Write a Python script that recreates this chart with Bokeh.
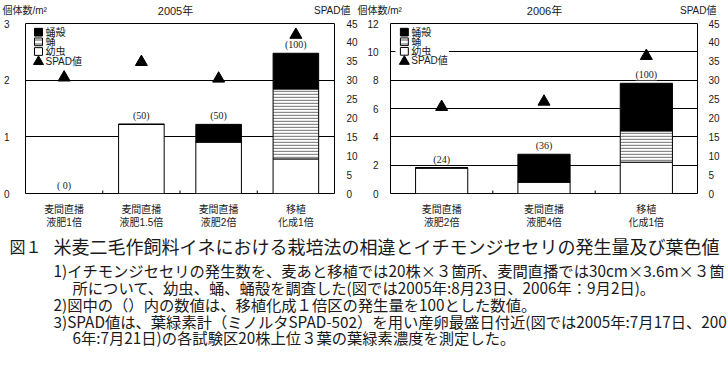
import numpy as np
from bokeh.plotting import figure
from bokeh.models import (Range1d, LinearAxis, FixedTicker, ColumnDataSource, Label, LabelSet)
from bokeh.core.properties import value
from bokeh.layouts import column, row
from bokeh.embed import file_html
from bokeh.resources import INLINE

# ---------------- data ----------------
cats_2005 = ["麦間直播\n液肥1倍", "麦間直播\n液肥1.5倍", "麦間直播\n液肥2倍", "移植\n化成1倍"]
larva_2005 = [0.0, 1.22, 0.91, 0.61]      # 幼虫
pupa_2005 = [0.0, 0.0, 0.0, 1.235]        # 蛹
exuv_2005 = [0.0, 0.0, 0.31, 0.63]        # 蛹殻
spad_2005 = [30.7, 34.8, 30.4, 42.0]      # SPAD値
rel_2005 = [0, 50, 50, 100]               # (  ) 内の数値

cats_2006 = ["麦間直播\n液肥2倍", "麦間直播\n液肥4倍", "移植\n化成1倍"]
larva_2006 = [1.81, 0.81, 2.21]
pupa_2006 = [0.0, 0.0, 2.21]
exuv_2006 = [0.0, 1.96, 3.36]
spad_2006 = [22.9, 24.3, 36.4]
rel_2006 = [24, 36, 100]

yticks_2005 = [0, 1, 2, 3]
yticks_2006 = [0, 2, 4, 6, 8, 10, 12]
spad_ticks = [0, 5, 10, 15, 20, 25, 30, 35, 40, 45]

legend_labels = ["蛹殻", "蛹", "幼虫", "SPAD値"]
header_texts = ["個体数/m²", "2005年", "SPAD値", "個体数/m²", "2006年", "SPAD値"]

caption_title = "図１"
caption_main = "米麦二毛作飼料イネにおける栽培法の相違とイチモンジセセリの発生量及び葉色値"
caption_lines = [
    "1)イチモンジセセリの発生数を、麦あと移植では20株×３箇所、麦間直播では30cm×3.6m×３箇",
    "所について、幼虫、蛹、蛹殻を調査した(図では2005年:8月23日、2006年：9月2日)。",
    "2)図中の（）内の数値は、移植化成１倍区の発生量を100とした数値。",
    "3)SPAD値は、葉緑素計（ミノルタSPAD-502）を用い産卵最盛日付近(図では2005年:7月17日、200",
    "6年:7月21日)の各試験区20株上位３葉の葉緑素濃度を測定した。",
]

CJK = "Noto Sans CJK JP"
MIX = "Liberation Sans, Noto Sans CJK JP"
NUM = "Liberation Sans"
TXT = "#1a1a1a"
HATCH = dict(hatch_pattern="horizontal_line", hatch_color="#8a8a8a", hatch_scale=3, hatch_weight=1.4)


def make_chart(cats, larva, pupa, exuv, spad, rel, yticks, bw, width, borders, offs, leg_x):
    n = len(cats)
    x = np.arange(n) + 0.5
    t0 = np.array(larva)
    t1 = t0 + np.array(pupa)
    t2 = t1 + np.array(exuv)
    src = ColumnDataSource(dict(x=x, b=np.zeros(n), t0=t0, t1=t1, t2=t2, spad=spad,
                                rel=["({:>2d})".format(v) for v in rel]))
    ymax = yticks[-1]
    height = 213
    p = figure(width=width, height=height, x_range=Range1d(0, n), y_range=Range1d(0, ymax),
               output_backend="svg", toolbar_location=None,
               min_border_left=borders[0], min_border_right=borders[1],
               min_border_top=borders[2], min_border_bottom=borders[3])
    frame_h = height - borders[2] - borders[3]
    frame_w = width - borders[0] - borders[1]
    p.background_fill_color = "white"
    p.border_fill_color = "white"
    p.outline_line_color = "black"
    p.outline_line_width = 1
    p.outline_line_alpha = 1

    p.xgrid.grid_line_color = None
    p.ygrid.ticker = FixedTicker(ticks=yticks)
    p.ygrid.grid_line_color = "black"
    p.ygrid.grid_line_alpha = 1
    p.ygrid.grid_line_width = 1

    # left axis
    p.yaxis.ticker = FixedTicker(ticks=yticks)
    p.yaxis.axis_line_color = None
    p.yaxis.major_tick_line_color = None
    p.yaxis.minor_tick_line_color = None
    p.yaxis.major_label_text_font = NUM
    p.yaxis.major_label_text_font_size = "10px"
    p.yaxis.major_label_text_color = TXT
    p.yaxis.major_label_standoff = offs[0]

    # right SPAD axis + pixel ranges for the in-plot legend box
    p.extra_y_ranges = {"spad": Range1d(0, 45), "ly": Range1d(frame_h, 0)}
    p.extra_x_ranges = {"lx": Range1d(0, frame_w)}
    ax = LinearAxis(y_range_name="spad", ticker=FixedTicker(ticks=spad_ticks))
    ax.axis_line_color = None
    ax.major_tick_line_color = None
    ax.minor_tick_line_color = None
    ax.major_label_text_font = NUM
    ax.major_label_text_font_size = "10px"
    ax.major_label_text_color = TXT
    ax.major_label_standoff = offs[1]
    p.add_layout(ax, "right")

    # bottom category axis
    p.xaxis.ticker = FixedTicker(ticks=list(x))
    p.xaxis.major_label_overrides = {float(xx): c for xx, c in zip(x, cats)}
    p.xaxis.axis_line_color = None
    p.xaxis.major_tick_line_color = None
    p.xaxis.minor_tick_line_color = None
    p.xaxis.major_label_text_font = MIX
    p.xaxis.major_label_text_font_size = "10px"
    p.xaxis.major_label_text_color = TXT
    p.xaxis.major_label_text_line_height = 1.2
    p.xaxis.major_label_standoff = 4

    # small inward ticks at category boundaries
    p.ray(x=np.arange(1, n), y=0, length=3, length_units="screen", angle=np.pi / 2,
          line_color="black", line_width=1)

    # ---- legend (drawn in frame pixel coordinates) ----
    rows = [9, 19, 29, 39]
    gx = leg_x
    p.quad(left=gx - 5, right=gx + 49, top=2, bottom=45, x_range_name="lx", y_range_name="ly",
           fill_color="white", line_color=None)
    p.rect(x=gx + 4, y=rows[0], width=8, height=8, x_range_name="lx", y_range_name="ly",
           fill_color="black", line_color="black")
    p.rect(x=gx + 4, y=rows[1], width=8, height=8, x_range_name="lx", y_range_name="ly",
           fill_color="white", line_color="black", hatch_pattern="horizontal_line",
           hatch_color="#555555", hatch_scale=4, hatch_weight=1)
    p.rect(x=gx + 4, y=rows[2], width=8, height=8, x_range_name="lx", y_range_name="ly",
           fill_color="white", line_color="black")
    p.scatter(x=gx + 4, y=rows[3] + 0.5, x_range_name="lx", y_range_name="ly",
              marker="triangle", size=10, fill_color="black", line_color="black")
    p.text(x=[gx + 11] * 4, y=rows, text=legend_labels, x_range_name="lx", y_range_name="ly",
           text_font=value(MIX), text_font_size="10px", text_color=TXT,
           text_baseline="middle", text_align="left")

    # ---- data ----
    p.vbar(x="x", bottom="b", top="t0", width=bw, source=src,
           fill_color="white", line_color="black", line_width=1)
    p.vbar(x="x", bottom="t0", top="t1", width=bw, source=src,
           fill_color="white", line_color="black", line_width=1, **HATCH)
    p.vbar(x="x", bottom="t1", top="t2", width=bw, source=src,
           fill_color="black", line_color="black", line_width=1)
    p.scatter(x="x", y="spad", source=src, y_range_name="spad", marker="triangle",
              size=12, fill_color="black", line_color="black")

    labels = LabelSet(x="x", y="t2", text="rel", source=src, y_offset=3,
                      text_align="center", text_baseline="bottom",
                      text_font=NUM, text_font_size="10px", text_color=TXT,
                      background_fill_color="white")
    p.add_layout(labels)
    return p


p1 = make_chart(cats_2005, larva_2005, pupa_2005, exuv_2005, spad_2005, rel_2005,
                yticks_2005, 0.59, 364, (25, 30, 6, 31), (10, 6), 9)
p2 = make_chart(cats_2006, larva_2006, pupa_2006, exuv_2006, spad_2006, rel_2006,
                yticks_2006, 0.51, 364, (23, 31, 6, 30), (6, 5), 10)

# header row (axis titles and year titles)
hdr = figure(width=728, height=17, x_range=Range1d(0, 728), y_range=Range1d(17, 0),
             output_backend="svg", toolbar_location=None, min_border=0)
hdr.axis.visible = False
hdr.grid.grid_line_color = None
hdr.outline_line_color = None
hdr.border_fill_color = "white"
hdr_x = [2, 175, 350, 357, 544, 716]
hdr_align = ["left", "center", "right", "left", "center", "right"]
hdr_size = ["10px", "11px", "10px", "10px", "11px", "10px"]
for t, hx, al, fs in zip(header_texts, hdr_x, hdr_align, hdr_size):
    hdr.add_layout(Label(x=hx, y=10, text=t, text_align=al, text_baseline="middle",
                         text_font=MIX, text_font_size=fs, text_color=TXT))

# caption
cap = figure(width=728, height=140, x_range=Range1d(0, 728), y_range=Range1d(140, 0),
             output_backend="svg", toolbar_location=None, min_border=0)
cap.axis.visible = False
cap.grid.grid_line_color = None
cap.outline_line_color = None
cap.background_fill_color = "white"
cap.border_fill_color = "white"
cap.add_layout(Label(x=9, y=15, text=caption_title, text_baseline="middle",
                     text_font=CJK, text_font_size="16px", text_color=TXT))
cap.add_layout(Label(x=53, y=15, text=caption_main, text_baseline="middle",
                     text_font=CJK, text_font_size="18px", text_color=TXT))
line_x = [53, 72, 53, 53, 72]
line_y = [39, 56, 73, 90, 106]
for tx, lx, ly in zip(caption_lines, line_x, line_y):
    cap.add_layout(Label(x=lx, y=ly, text=tx, text_baseline="middle",
                         text_font=CJK, text_font_size="15.3px", text_color=TXT))

layout = column(hdr, row(p1, p2), cap)
open("out.html", "w").write(file_html(layout, INLINE))
